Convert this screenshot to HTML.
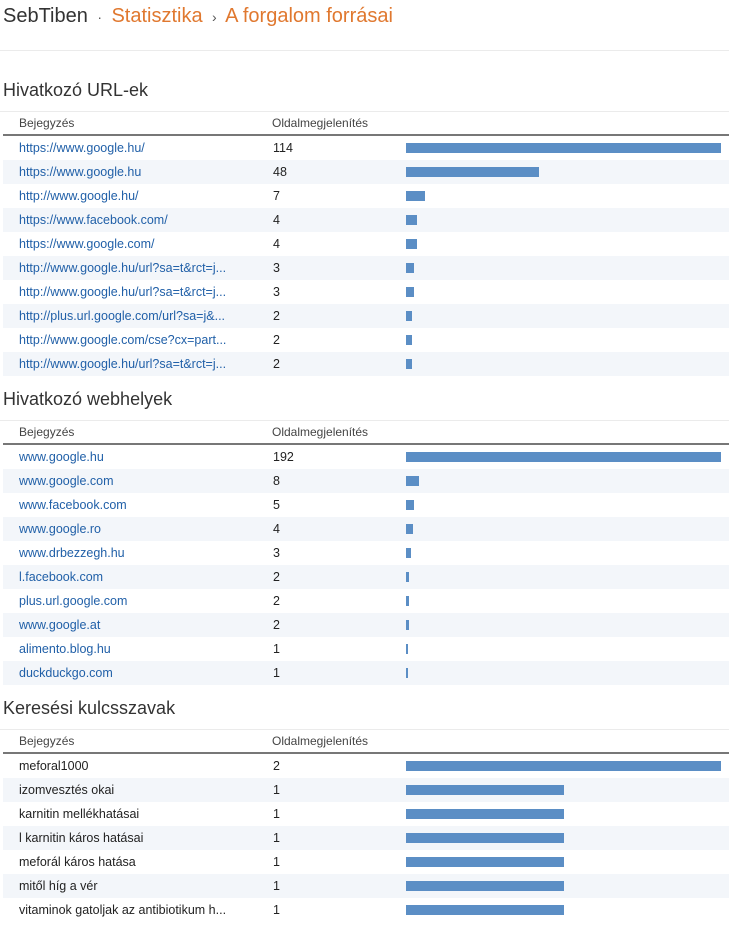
<!DOCTYPE html>
<html><head><meta charset="utf-8"><style>
body{margin:0;width:729px;height:925px;background:#fff;font-family:"Liberation Sans",Arial,sans-serif;position:relative;overflow:hidden}
.abs{position:absolute;white-space:nowrap}
.title{left:3px;top:3px;font-size:20px;color:#333;line-height:26px}
.title .o{color:#e0782f}
.h{left:3px;font-size:18px;color:#333;line-height:22px}
.line{left:0;width:729px;height:1px;background:#ebebeb}
.hd{font-size:12px;color:#444;line-height:14px}
.hl{left:3px;width:726px;height:2px;background:#777}
.row{left:3px;width:726px;height:24px}
.alt{background:#f3f6fa}
.lbl{font-size:12.5px;line-height:24px;top:0}
.bar{background:#5b8ec5;height:10px;top:7px}
</style></head><body>
<div class="abs title">SebTiben <span style="font-size:14px;color:#555">&nbsp;·&nbsp;</span> <span class="o">Statisztika</span> <span style="font-size:14px;color:#555">&nbsp;›&nbsp;</span> <span class="o">A forgalom forrásai</span></div>
<div class="abs line" style="top:50px"></div>
<div id="root"></div>
<script>
const urlLabels=["https://www.google.hu/","https://www.google.hu","http://www.google.hu/","https://www.facebook.com/","https://www.google.com/","http://www.google.hu/url?sa=t&rct=j...","http://www.google.hu/url?sa=t&rct=j...","http://plus.url.google.com/url?sa=j&...","http://www.google.com/cse?cx=part...","http://www.google.hu/url?sa=t&rct=j..."];
const urlValues=[114,48,7,4,4,3,3,2,2,2];
const siteLabels=["www.google.hu","www.google.com","www.facebook.com","www.google.ro","www.drbezzegh.hu","l.facebook.com","plus.url.google.com","www.google.at","alimento.blog.hu","duckduckgo.com"];
const siteValues=[192,8,5,4,3,2,2,2,1,1];
const kwLabels=["meforal1000","izomvesztés okai","karnitin mellékhatásai","l karnitin káros hatásai","meforál káros hatása","mitől híg a vér","vitaminok gatoljak az antibiotikum h..."];
const kwValues=[2,1,1,1,1,1,1];
const sections=[
 {title:"Hivatkozó URL-ek",top:79,labels:urlLabels,values:urlValues,link:true,name:"referring-urls"},
 {title:"Hivatkozó webhelyek",top:388,labels:siteLabels,values:siteValues,link:true,name:"referring-sites"},
 {title:"Keresési kulcsszavak",top:697,labels:kwLabels,values:kwValues,link:false,name:"search-keywords"}
];
const root=document.getElementById('root');
function mk(cls,top,left,parent){const d=document.createElement('div');d.className='abs '+cls;d.style.top=top+'px';if(left!=null)d.style.left=left+'px';(parent||root).appendChild(d);return d;}
const barX=403,barW=315;
sections.forEach(s=>{
 const max=Math.max(...s.values);
 const xs=v=>v/max*barW;
 let h=mk('h',s.top);h.textContent=s.title;
 
 
 let l=mk('line',s.top+32);
 
 
 let c1=mk('hd',s.top+37,19);c1.textContent='Bejegyzés';
 
 
 let c2=mk('hd',s.top+37,272);c2.textContent='Oldalmegjelenítés';
 
 
 let hl=mk('hl',s.top+55);
 
 
 s.labels.forEach((lab,i)=>{
  const r=mk('row'+(i%2?' alt':''),s.top+57+i*24);
  
  
  const a=mk('lbl',0,16,r);a.textContent=lab;a.style.color=s.link?'#2160a8':'#222';
  
  
  const n=mk('lbl',0,270,r);n.textContent=s.values[i];n.style.color='#222';
  
  
  const b=mk('bar',7,barX,r);b.style.width=xs(s.values[i])+'px';
  
  
 });
});
</script>
</body></html>
